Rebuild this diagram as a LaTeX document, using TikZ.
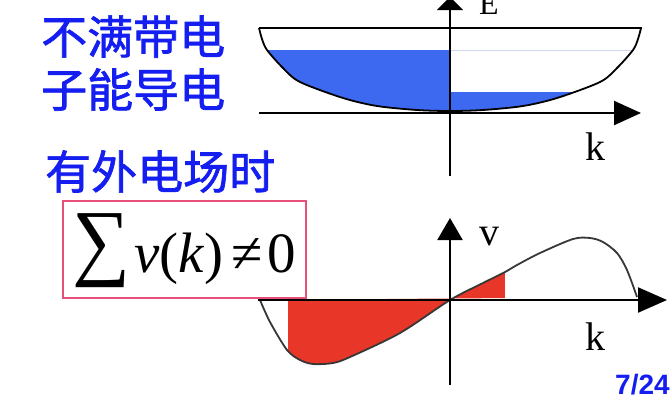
\documentclass[tikz,border=0pt]{standalone}
\usepackage{fontspec}
\usepackage{graphicx}
\usetikzlibrary{arrows.meta}
\newfontfamily\cjk{Noto Sans CJK SC}[FakeBold=1.5]
\newfontfamily\tms{Liberation Serif}
\newfontfamily\ars{Liberation Sans}
\definecolor{txtblue}{RGB}{20,30,240}
\definecolor{fillblue}{RGB}{60,105,240}
\definecolor{fillred}{RGB}{232,55,40}
\definecolor{boxpink}{RGB}{230,80,120}
\definecolor{faint}{RGB}{205,215,240}
\definecolor{curvegray}{RGB}{55,55,55}
\begin{document}
\begin{tikzpicture}[x=1pt,y=-1pt,
  axis/.style={line width=2.2pt,black},
  curve/.style={line width=1.8pt,curvegray},
  cjklabel/.style={anchor=base west,inner sep=0pt,text=txtblue,font=\cjk\fontsize{46}{50}\selectfont},
  axlabel/.style={anchor=base west,inner sep=0pt,font=\tms\fontsize{40}{40}\selectfont}]
\useasboundingbox (0,0) rectangle (672,400);

% ---------- texts ----------
\node[cjklabel] (t1) at (41,54) {不满带电};
\node[cjklabel] (t2) at (41,107) {子能导电};
\node[cjklabel] (t3) at (45,189) {有外电场时};

% ---------- formula box ----------
\draw[boxpink,line width=1.4pt] (63,201) rectangle (306,298);
\node[inner sep=0pt,anchor=north west] (sigma) at (72,213) {\resizebox*{58pt}{74pt}{\tms ∑}};
\node[anchor=base west,inner sep=0pt,font=\tms\fontsize{57}{57}\selectfont] (expr) at (134,272) {\textit{v}(\textit{k})\hspace{8pt}≠\hspace{5pt}0};

% ---------- top plot ----------
\begin{scope}
  \clip plot[smooth] coordinates {(259,28) (262,39) (267,50) (283,68) (300,82) (343,98) (377,106) (417,110) (450,111) (483,110) (523,106) (557,98) (600,82) (617,68) (633,50) (638,39) (641,28)} -- cycle;
  \fill[fillblue] (250,50) rectangle (450,120);
  \fill[fillblue] (450,92) rectangle (650,120);
\end{scope}
\draw[faint,line width=1pt] (450,50) -- (634,50);
\draw[line width=1.8pt,black] plot[smooth] coordinates {(259,28) (262,39) (267,50) (283,68) (300,82) (343,98) (377,106) (417,110) (450,111) (483,110) (523,106) (557,98) (600,82) (617,68) (633,50) (638,39) (641,28)};
\coordinate (btl) at (259,28);
\coordinate (btr) at (642,28);
\draw[line width=1.6pt,black] (btl) -- (btr);

\coordinate (ka1) at (259,113);
\coordinate (ka2) at (641,113);
\coordinate (ea1) at (450,176);
\coordinate (ea2) at (450,-3);
\draw[axis,-{Triangle[length=27pt,width=24pt]}] (ka1) -- (ka2);
\draw[axis,-{Triangle[length=13pt,width=26pt]}] (ea1) -- (ea2);
\node[axlabel,font=\tms\fontsize{32}{32}\selectfont] (E) at (479,14) {E};
\node[axlabel] (k1) at (585,160) {k};

% ---------- bottom plot ----------
\begin{scope}
  \clip plot[smooth] coordinates {(260,300) (270,322) (287,350) (300,360) (313,364) (333,363) (350,357) (400,333) (450,300) (483,283) (505,272) (517,265) (540,253) (573,239) (590,238) (603,242) (617,253) (627,270) (637,297)} -- cycle;
  \fill[fillred] (288,290) rectangle (450,380);
  \fill[fillred] (450,220) rectangle (505,310);
\end{scope}
\draw[curve] plot[smooth] coordinates {(260,300) (270,322) (287,350) (300,360) (313,364) (333,363) (350,357) (400,333) (450,300) (483,283) (505,272) (517,265) (540,253) (573,239) (590,238) (603,242) (617,253) (627,270) (637,297)};

\coordinate (kb1) at (258,300);
\coordinate (kb2) at (667,300);
\coordinate (vb1) at (450,385);
\coordinate (vb2) at (450,218);
\draw[axis,-{Triangle[length=29pt,width=25pt]}] (kb1) -- (kb2);
\draw[axis,-{Triangle[length=22pt,width=25pt]}] (vb1) -- (vb2);
\node[axlabel] (v) at (479,245) {v};
\node[axlabel] (k2) at (585,350) {k};

\node[anchor=base west,inner sep=0pt,text=txtblue,font=\ars\bfseries\fontsize{28}{28}\selectfont] (page) at (615,394) {7/24};
\end{tikzpicture}
\end{document}
